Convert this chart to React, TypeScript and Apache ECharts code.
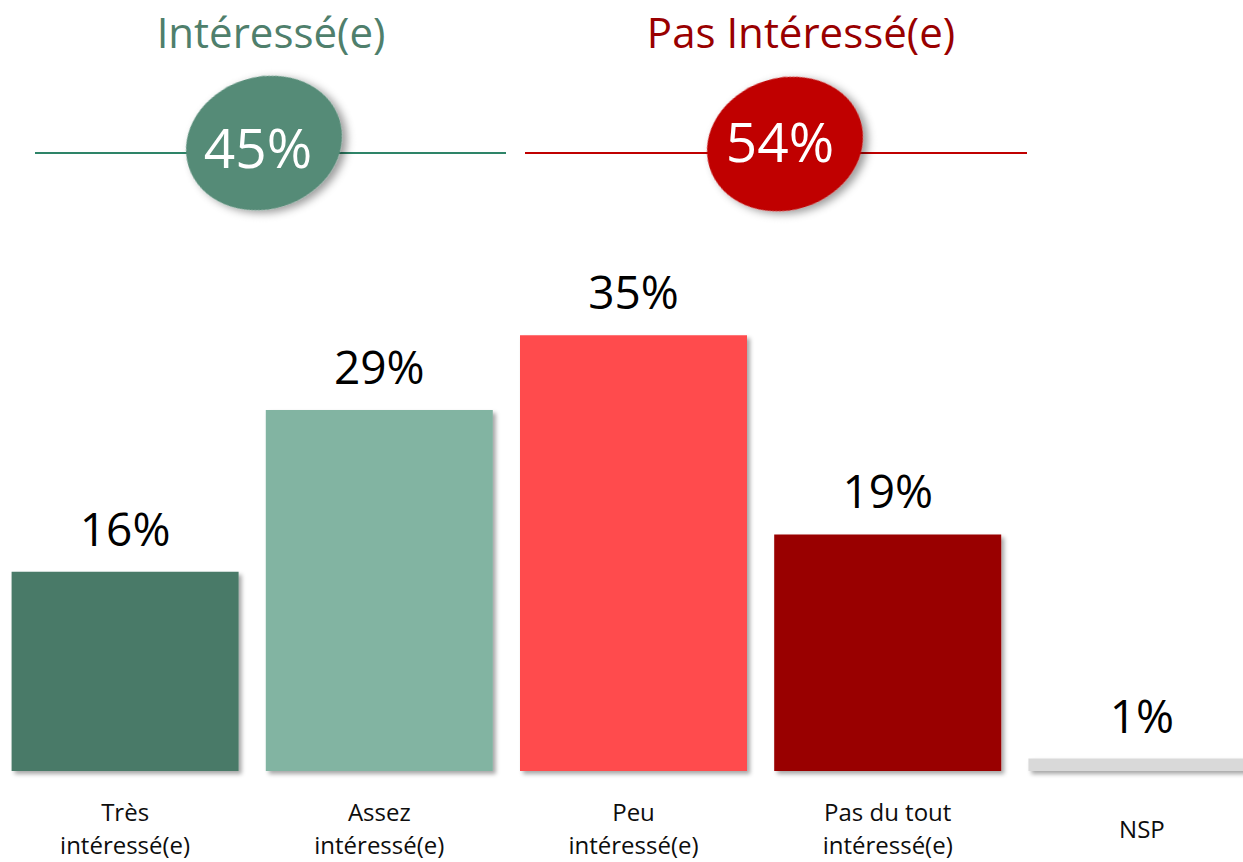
import React, { useEffect, useRef } from "react";
import * as echarts from "echarts";

const categories = ["Très\nintéressé(e)", "Assez\nintéressé(e)", "Peu\nintéressé(e)", "Pas du tout\nintéressé(e)", "NSP"];
const values = [16, 29, 35, 19, 1];
const barColors = ["#4a7a68", "#82b4a2", "#ff4b4e", "#990000", "#d9d9d9"];
const groupTitles = ["Intéressé(e)", "Pas Intéressé(e)"];
const groupTotals = ["45%", "54%"];

const FONT = "'Open Sans', 'Noto Sans', sans-serif";
const OFF = 20; // div shifted left by this many px

export default function App() {
  const ref = useRef<HTMLDivElement>(null);
  useEffect(() => {
    if (!ref.current) return;
    const chart = echarts.init(ref.current, null, { renderer: "svg" });
    chart.setOption({
      animation: false,
      backgroundColor: "#ffffff",
      grid: { left: OFF - 2, width: 1271, top: 273, height: 498, containLabel: false, outerBoundsMode: "none" },
      xAxis: {
        type: "category",
        data: categories,
        axisLine: { show: false },
        axisTick: { show: false },
        axisLabel: {
          interval: 0,
          margin: 57,
          verticalAlign: "middle",
          fontFamily: FONT,
          fontSize: 24,
          lineHeight: 33,
          color: "#0d0d0d",
        },
      },
      yAxis: { type: "value", min: 0, max: 40, show: false, splitLine: { show: false } },
      series: [
        {
          type: "bar",
          barWidth: 227,
          data: values.map((v, i) => ({
            value: v,
            itemStyle: {
              color: barColors[i],
              shadowColor: "rgba(0,0,0,0.35)",
              shadowBlur: 4,
              shadowOffsetX: 3,
              shadowOffsetY: 3,
            },
          })),
          label: {
            show: true,
            position: "top",
            distance: 21,
            formatter: "{c}%",
            fontFamily: FONT,
            fontSize: 46,
            color: "#000000",
          },
        },
      ],
      graphic: [
        { type: "line", shape: { x1: OFF + 35, y1: 153, x2: OFF + 506, y2: 153 }, style: { stroke: "#2e8468", lineWidth: 2 } },
        { type: "line", shape: { x1: OFF + 525, y1: 153, x2: OFF + 1027, y2: 153 }, style: { stroke: "#c00000", lineWidth: 2 } },
        {
          type: "text",
          x: OFF + 271,
          y: 31,
          style: { text: groupTitles[0], fill: "#4f7f6c", font: `42px ${FONT}`, align: "center", verticalAlign: "middle" },
        },
        {
          type: "text",
          x: OFF + 801,
          y: 31,
          style: { text: groupTitles[1], fill: "#990000", font: `42px ${FONT}`, align: "center", verticalAlign: "middle" },
        },
        {
          type: "ellipse",
          x: OFF + 264,
          y: 143,
          rotation: 0.3,
          shape: { cx: 0, cy: 0, rx: 79, ry: 66 },
          style: { fill: "#558b77", shadowBlur: 8, shadowOffsetX: 4, shadowOffsetY: 4, shadowColor: "rgba(0,0,0,0.4)" },
        },
        {
          type: "ellipse",
          x: OFF + 785,
          y: 144,
          rotation: 0.3,
          shape: { cx: 0, cy: 0, rx: 79, ry: 66 },
          style: { fill: "#c00000", shadowBlur: 8, shadowOffsetX: 4, shadowOffsetY: 4, shadowColor: "rgba(0,0,0,0.4)" },
        },
        {
          type: "text",
          x: OFF + 258,
          y: 146,
          style: { text: groupTotals[0], fill: "#ffffff", font: `55px ${FONT}`, align: "center", verticalAlign: "middle" },
        },
        {
          type: "text",
          x: OFF + 780,
          y: 140,
          style: { text: groupTotals[1], fill: "#ffffff", font: `55px ${FONT}`, align: "center", verticalAlign: "middle" },
        },
      ],
    });
    return () => chart.dispose();
  }, []);
  return <div ref={ref} style={{ position: "fixed", left: -OFF, top: 0, width: 1243 + 2 * OFF, height: 862 }} />;
}
